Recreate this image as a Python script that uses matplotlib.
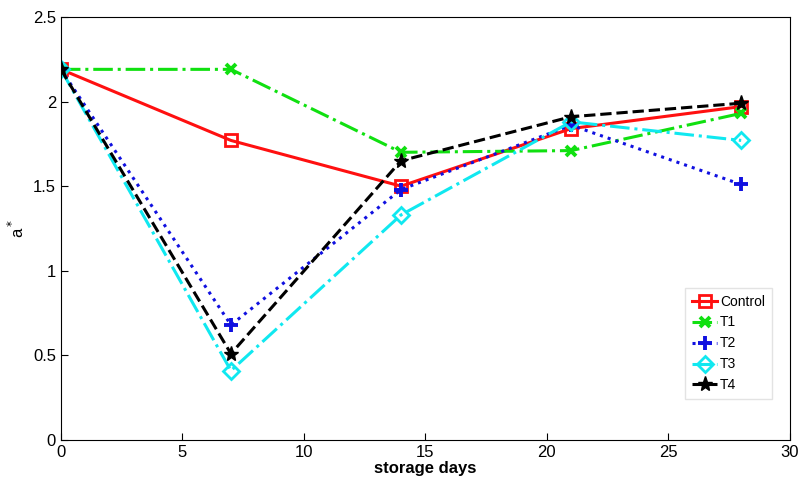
import matplotlib.pyplot as plt

# storage trial: a* colour value over storage time
days = [0, 7, 14, 21, 28]
control = [2.19, 1.77, 1.50, 1.84, 1.97]
t1 = [2.19, 2.19, 1.70, 1.71, 1.93]
t2 = [2.19, 0.68, 1.48, 1.86, 1.51]
t3 = [2.19, 0.41, 1.33, 1.88, 1.77]
t4 = [2.19, 0.51, 1.65, 1.91, 1.99]

plt.rcParams['font.family'] = ['Liberation Sans Narrow', 'Liberation Sans', 'DejaVu Sans']

fig = plt.figure(figsize=(8.01, 4.82), dpi=100)
ax = fig.add_axes([0.076, 0.087, 0.910, 0.878])

ax.plot(days, control, color='#ff1010', ls='-', lw=2.2, marker='s', ms=8,
        mfc='none', mew=2, label='Control')
ax.plot(days, t1, color='#10e010', ls='-.', lw=2.2, marker='x', ms=7,
        mew=2.8, label='T1')
ax.plot(days, t2, color='#1010e0', ls=':', lw=2.2, marker='+', ms=10,
        mew=2.8, label='T2')
ax.plot(days, t3, color='#10e8f0', ls='-.', lw=2.2, marker='D', ms=8,
        mfc='none', mew=2, label='T3')
ax.plot(days, t4, color='black', ls='--', lw=2.2, marker='*', ms=11,
        label='T4')

ax.set_xlim(0, 30)
ax.set_ylim(0, 2.5)
ax.set_xticks([0, 5, 10, 15, 20, 25, 30])
ax.set_yticks([0, 0.5, 1, 1.5, 2, 2.5])
ax.set_yticklabels(['0', '0.5', '1', '1.5', '2', '2.5'])
ax.tick_params(direction='in', length=5, labelsize=12)
ax.set_xlabel('storage days', fontsize=12, fontweight='bold', labelpad=1)
ax.set_ylabel('a$^*$', fontsize=12, labelpad=4)

leg = ax.legend(loc='lower right', bbox_to_anchor=(0.985, 0.08), fontsize=10,
                handlelength=1.8, handletextpad=0.2, borderpad=0.5,
                labelspacing=0.5, fancybox=False)
leg.get_frame().set_edgecolor('#dddddd')

fig.savefig('out.png', dpi=100)
